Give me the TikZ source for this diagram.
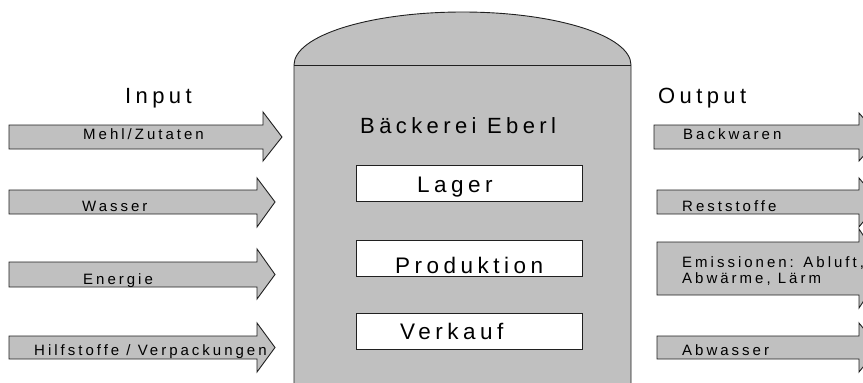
\documentclass[tikz,border=0pt]{standalone}
\usepackage{fontspec}
\setmainfont{Liberation Sans}
\newfontfamily\tracked[LetterSpace=20]{Liberation Sans}
\definecolor{tankgray}{HTML}{C0C0C0}
\definecolor{edge}{HTML}{202020}
\tikzset{
  flow/.style={fill=tankgray, draw=edge, line width=0.9pt, line join=miter},
  small/.style={inner sep=0pt, anchor=base west, font=\tracked\fontsize{15}{16}\selectfont},
  big/.style={inner sep=0pt, anchor=base west, font=\tracked\fontsize{22}{26}\selectfont},
  unit/.style={draw=edge, fill=white, line width=0.9pt, minimum width=226pt, minimum height=36pt, inner sep=0pt},
}
\begin{document}
\begin{tikzpicture}[x=1pt, y=-1pt]
\useasboundingbox (0,0) rectangle (863,383);
\clip (0,0) rectangle (863,383);

% tank: body with elliptical dome
\filldraw[fill=tankgray, draw=edge, line width=0.9pt]
  (294,400) -- (294,65)
  .. controls (294,35.7) and (369.4,12) .. (462.5,12)
  .. controls (555.6,12) and (631,35.7) .. (631,65)
  -- (631,400);
\draw[edge, line width=0.9pt] (294,65) -- (631,65);

% inputs
\draw[flow] (9,125) -- (263,125) -- (263,112) -- (282,137) -- (263,161) -- (263,149) -- (9,149) -- cycle;
\draw[flow] (9,190) -- (257,190) -- (257,178) -- (275,202) -- (257,227) -- (257,214) -- (9,214) -- cycle;
\draw[flow] (9,262) -- (257,262) -- (257,249) -- (275,274.5) -- (257,299) -- (257,287) -- (9,287) -- cycle;
\draw[flow] (9,336) -- (257,336) -- (257,323) -- (275,347.5) -- (257,372) -- (257,359) -- (9,359) -- cycle;

% outputs
\draw[flow] (654,125) -- (859,125) -- (859,113) -- (880,137) -- (859,161) -- (859,149) -- (654,149) -- cycle;
\draw[flow] (657,190) -- (859,190) -- (859,178) -- (879,202) -- (859,227) -- (859,214) -- (657,214) -- cycle;
\draw[flow] (657,242) -- (859,242) -- (859,229) -- (885,268.5) -- (859,308) -- (859,295) -- (657,295) -- cycle;
\draw[flow] (657,336) -- (859,336) -- (859,323) -- (879,347.5) -- (859,372) -- (859,359) -- (657,359) -- cycle;

% headings
\node[big] (input) at (125,103) {Input};
\node[big] (output) at (658,103) {Output};
\node[big] (firm) at (360,133) {Bäckerei Eberl};

% departments
\node[unit] (lager) at (469,183) {};
\node[unit] (prod) at (469,258) {};
\node[unit] (verk) at (469,331) {};
\node[big, font=\tracked\fontsize{22.5}{26}\selectfont] (lagert) at (417,192) {Lager};
\node[big, font=\tracked\fontsize{22.5}{26}\selectfont] (prodt) at (395,273) {Produktion};
\node[big, font=\tracked\fontsize{22.5}{26}\selectfont] (verkt) at (400,339) {Verkauf};

% input labels
\node[small] (mehl) at (83,139) {Mehl/Zutaten};
\node[small] (wasser) at (82,211) {Wasser};
\node[small] (energie) at (83,284) {Energie};
\node[small] (hilf) at (34,355) {Hilfstoffe / Verpackungen};

% output labels
\node[small] (back) at (683,139) {Backwaren};
\node[small] (rest) at (682,211) {Reststoffe};
\node[small] (emi1) at (682,267) {Emissionen: Abluft,};
\node[small] (emi2) at (682,283) {Abwärme, Lärm};
\node[small] (abw) at (682,355) {Abwasser};
\end{tikzpicture}
\end{document}
